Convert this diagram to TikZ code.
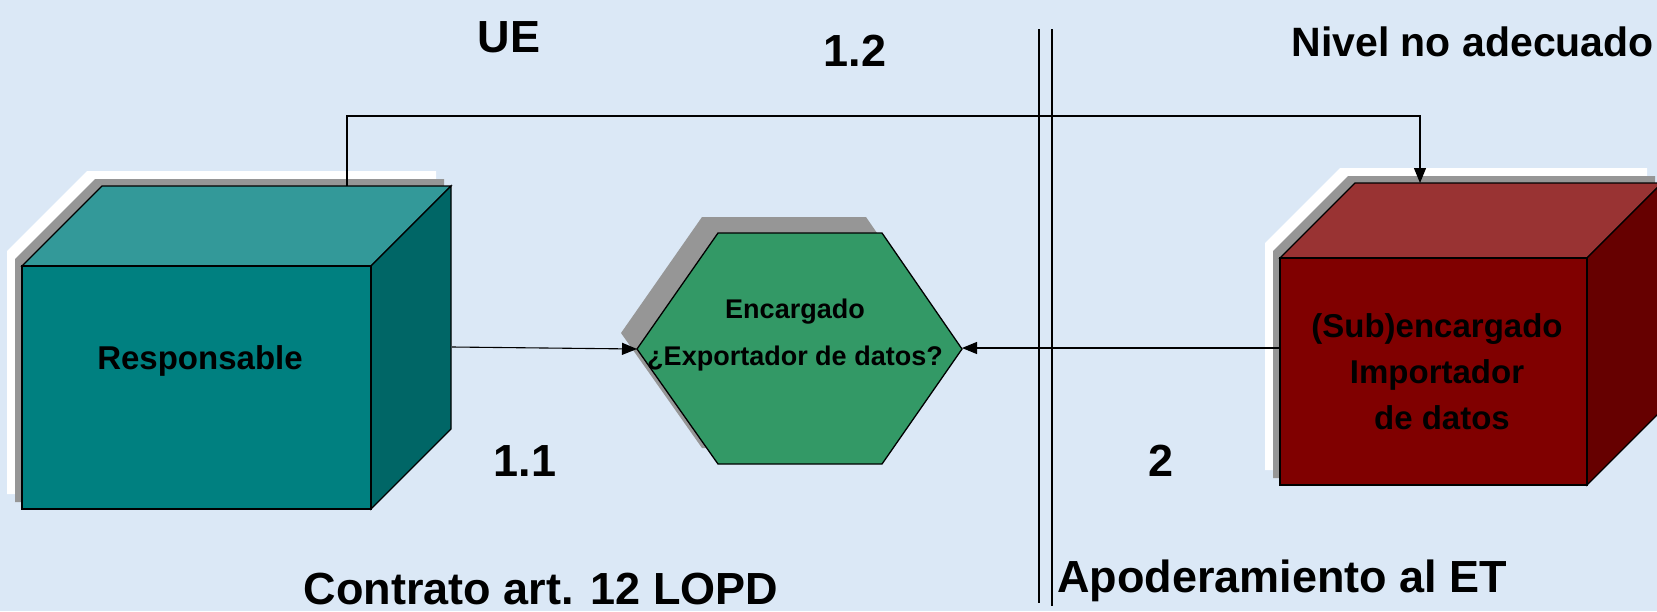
\documentclass[tikz,border=0pt]{standalone}
\usepackage{fontspec}
\setmainfont{Liberation Sans}
\usetikzlibrary{arrows.meta}
\definecolor{fondo}{RGB}{219,232,246}
\definecolor{tealfrente}{RGB}{0,128,128}
\definecolor{tealtapa}{RGB}{51,153,153}
\definecolor{teallado}{RGB}{0,102,102}
\definecolor{granate}{RGB}{128,0,0}
\definecolor{granatetapa}{RGB}{153,51,51}
\definecolor{granatelado}{RGB}{102,0,0}
\definecolor{verdehex}{RGB}{51,153,102}
\definecolor{sombra}{RGB}{150,150,150}

\begin{document}
\begin{tikzpicture}[x=1pt,y=-1pt,
    cara/.style={draw=black,line width=1.3pt,line join=miter},
    enlace/.style={line width=1.1pt},
    flecha/.style={enlace,-{Triangle[length=15pt,width=12pt]}},
    rotulo/.style={font=\fontsize{45}{48}\selectfont\bfseries,inner sep=0pt},
    caja/.style={font=\fontsize{33}{46}\selectfont\bfseries,align=center,inner sep=0pt}]
  % page and background
  \useasboundingbox (0,0) rectangle (1657,611);
  \clip (0,0) rectangle (1657,611);
  \fill[fondo] (0,0) rectangle (1657,611);

  % shadows (white rim, then grey)
  \foreach \d/\col in {15/white,7/sombra} {
    \fill[\col,shift={(-\d,-\d)}] (22,509) -- (22,266) -- (102,186) -- (451,186) -- (451,429) -- (371,509) -- cycle;
    \fill[\col,shift={(-\d,-\d)}] (1280,485) -- (1280,258) -- (1355,183) -- (1662,183) -- (1662,410) -- (1587,485) -- cycle;
  }
  \fill[sombra,shift={(-16,-16)}] (637,349) -- (718,233) -- (882,233) -- (962,349) -- (882,464) -- (718,464) -- cycle;

  % Responsable box
  \filldraw[cara,fill=tealtapa] (22,266) -- (102,186) -- (451,186) -- (371,266) -- cycle;
  \filldraw[cara,fill=teallado] (371,266) -- (451,186) -- (451,429) -- (371,509) -- cycle;
  \filldraw[cara,fill=tealfrente] (22,266) rectangle (371,509);
  \node[caja] (resp) at (200,361) {Responsable};

  % importer box, cut by the right edge
  \filldraw[cara,fill=granatetapa] (1280,258) -- (1355,183) -- (1662,183) -- (1587,258) -- cycle;
  \filldraw[cara,fill=granatelado] (1587,258) -- (1662,183) -- (1662,410) -- (1587,485) -- cycle;
  \filldraw[cara,fill=granate] (1280,258) rectangle (1587,485);
  \node[caja] (imp) at (1437,372) {(Sub)encargado\\Importador\\\hspace*{10pt}de datos};

  % hexagon
  \filldraw[cara,fill=verdehex] (637,349) -- (718,233) -- (882,233) -- (962,349) -- (882,464) -- (718,464) -- cycle;
  \node[caja,font=\fontsize{27}{47}\selectfont\bfseries] (enc) at (795,335) {Encargado\\¿Exportador de datos?};

  % border between UE and third country
  \draw[line width=1.5pt] (1039,29) -- (1039,603);
  \draw[line width=1.5pt] (1052,29) -- (1052,606);

  % connector ends
  \coordinate (respLado) at (452,347);
  \coordinate (respTapa) at (347,186);
  \coordinate (cima) at (900,116);
  \coordinate (impTapa) at (1420,183);
  \coordinate (impFrente) at (1280,348);
  \coordinate (hexO) at (637,349);
  \coordinate (hexE) at (962,348);

  \draw[flecha] (respLado) -- (hexO);
  \draw[flecha] (impFrente) -- (hexE);
  \draw[flecha] (respTapa) |- (cima) -| (impTapa);

  % labels
  \node[rotulo] (ue) at (509,37) {UE};
  \node[rotulo] (n12) at (855,51) {1.2};
  \node[rotulo,anchor=east,font=\fontsize{41}{48}\selectfont\bfseries] (nivel) at (1654,42) {Nivel no adecuado};
  \node[rotulo] (n11) at (525,461) {1.1};
  \node[rotulo] (n2) at (1161,461) {2};
  \node[rotulo] (contrato) at (541,589) {Contrato art. 12 LOPD};
  \node[rotulo,anchor=west] (apod) at (1057,581) {Apoderamiento al ET};
\end{tikzpicture}
\end{document}
